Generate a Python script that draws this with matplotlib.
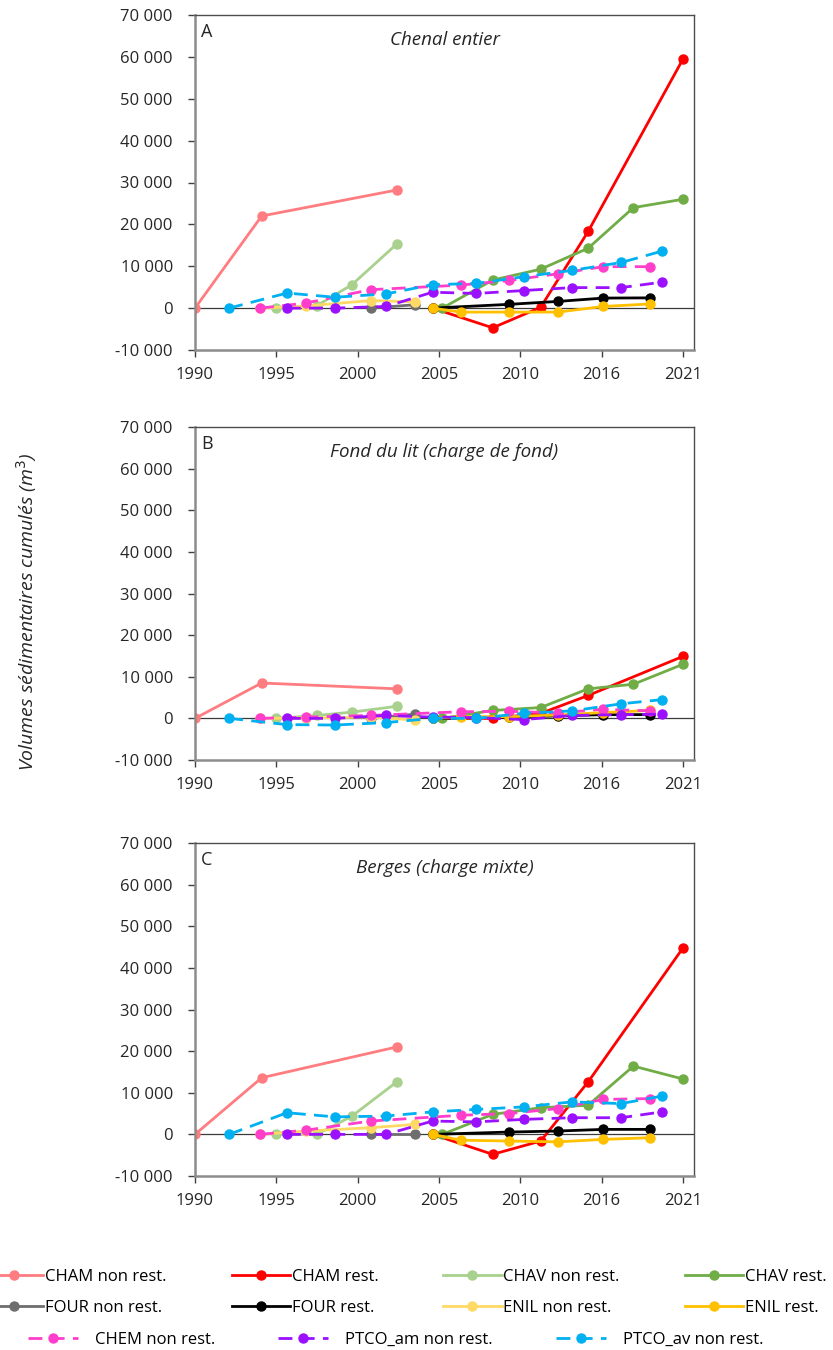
import numpy as np
import matplotlib
matplotlib.use("Agg")
import matplotlib.pyplot as plt
from matplotlib.ticker import FuncFormatter

plt.rcParams['font.family'] = ['Open Sans', 'DejaVu Sans']

# axis: evenly spaced year ticks (not linear in time)
tick_years = [1990, 1995, 2000, 2005, 2010, 2016, 2021]

# survey dates for each series
yr_cham_non = [1990, 1994.1, 2002.4]
yr_cham_rest = [2004.6, 2008.3, 2011.5, 2015.0, 2021]
yr_chav_non = [1995, 1997.5, 1999.65, 2002.4]
yr_chav_rest = [2005.2, 2008.3, 2011.5, 2015.0, 2017.95, 2021]
yr_four_non = [2000.8, 2003.5]
yr_four_rest = [2004.6, 2009.3, 2012.76, 2016.1, 2019.0]
yr_enil_non = [1994.0, 1996.8, 2000.8, 2003.5]
yr_enil_rest = [2004.6, 2006.35, 2009.3, 2012.76, 2016.1, 2019.0]
yr_chem_non = [1994.0, 1996.8, 2000.8, 2006.35, 2009.3, 2012.76, 2016.1, 2019.0]
yr_ptco_am = [1995.65, 1998.6, 2001.75, 2004.6, 2007.3, 2010.24, 2013.8, 2017.2, 2019.7]
yr_ptco_av = [1992.1, 1995.65, 1998.6, 2001.75, 2004.6, 2007.3, 2010.24, 2013.8, 2017.2, 2019.7]

# A - chenal entier
a_cham_non = [0, 22000, 28200]
a_cham_rest = [0, -4700, 200, 18300, 59500]
a_chav_non = [0, 600, 5600, 15300]
a_chav_rest = [0, 6700, 9300, 14300, 24000, 26000]
a_four_non = [0, 800]
a_four_rest = [0, 900, 1600, 2400, 2450]
a_enil_non = [0, 500, 1800, 1500]
a_enil_rest = [0, -950, -950, -950, 400, 1000]
a_chem_non = [0, 1200, 4400, 5500, 6600, 8200, 9900, 9900]
a_ptco_am = [0, 0, 400, 3800, 3500, 4200, 4900, 4900, 6200]
a_ptco_av = [0, 3600, 2600, 3400, 5600, 5900, 7500, 9000, 10900, 13600]

# B - fond du lit
b_cham_non = [0, 8500, 7100]
b_cham_rest = [0, 0, 1200, 5500, 14900]
b_chav_non = [0, 700, 1500, 2900]
b_chav_rest = [0, 1900, 2600, 7100, 8200, 13000]
b_four_non = [0, 1000]
b_four_rest = [0, 300, 600, 900, 900]
b_enil_non = [0, 100, 300, -400]
b_enil_rest = [0, 400, 400, 800, 1400, 1900]
b_chem_non = [0, 300, 700, 1600, 1700, 1300, 2200, 1800]
b_ptco_am = [0, 0, 700, 300, 200, -300, 700, 900, 1000]
b_ptco_av = [0, -1500, -1600, -1000, 0, 0, 1200, 1800, 3500, 4500]

# C - berges
c_cham_non = [0, 13600, 21000]
c_cham_rest = [0, -4800, -1600, 12600, 44800]
c_chav_non = [0, 0, 4400, 12600]
c_chav_rest = [0, 4800, 6400, 7000, 16400, 13300]
c_four_non = [0, 0]
c_four_rest = [0, 560, 800, 1200, 1200]
c_enil_non = [0, 800, 1600, 2400]
c_enil_rest = [0, -1400, -1600, -1800, -1200, -800]
c_chem_non = [0, 1000, 3200, 4600, 5000, 6200, 8400, 8600]
c_ptco_am = [0, 0, 0, 3200, 3000, 3600, 4000, 4000, 5400]
c_ptco_av = [0, 5200, 4200, 4400, 5400, 6000, 6600, 7800, 7400, 9200]

names = ['CHAM non rest.', 'CHAM rest.', 'CHAV non rest.', 'CHAV rest.',
         'FOUR non rest.', 'FOUR rest.', 'ENIL non rest.', 'ENIL rest.',
         'CHEM non rest.', 'PTCO_am non rest.', 'PTCO_av non rest.']
colors = ['#FF7C80', '#FF0000', '#A9D18E', '#70AD47',
          '#6E6E6E', '#000000', '#FFD966', '#FFC000',
          '#FF3FCC', '#9B10FF', '#00B0F0']
dashed = [False] * 8 + [True] * 3
years = [yr_cham_non, yr_cham_rest, yr_chav_non, yr_chav_rest,
         yr_four_non, yr_four_rest, yr_enil_non, yr_enil_rest,
         yr_chem_non, yr_ptco_am, yr_ptco_av]

panels = [
    ('A', 'Chenal entier',
     [a_cham_non, a_cham_rest, a_chav_non, a_chav_rest, a_four_non, a_four_rest,
      a_enil_non, a_enil_rest, a_chem_non, a_ptco_am, a_ptco_av]),
    ('B', 'Fond du lit (charge de fond)',
     [b_cham_non, b_cham_rest, b_chav_non, b_chav_rest, b_four_non, b_four_rest,
      b_enil_non, b_enil_rest, b_chem_non, b_ptco_am, b_ptco_av]),
    ('C', 'Berges (charge mixte)',
     [c_cham_non, c_cham_rest, c_chav_non, c_chav_rest, c_four_non, c_four_rest,
      c_enil_non, c_enil_rest, c_chem_non, c_ptco_am, c_ptco_av]),
]


def to_pos(yrs):
    return np.interp(yrs, tick_years, np.arange(len(tick_years)))


W, H = 833, 1350
fig = plt.figure(figsize=(W / 100, H / 100), dpi=100)

# axes boxes in pixels: (top, bottom)
boxes = [(15, 350), (427, 760), (843, 1176)]
left_px, right_px = 195, 694

fmt = FuncFormatter(lambda v, p: '{:,}'.format(int(v)).replace(',', ' '))

legend_handles = []
for k, (letter, title, series) in enumerate(panels):
    top, bot = boxes[k]
    ax = fig.add_axes([left_px / W, (H - bot) / H, (right_px - left_px) / W, (bot - top) / H])
    ax.axhline(0, color='#3a3a3a', lw=0.9, zorder=1)
    for i in range(len(names)):
        ln, = ax.plot(to_pos(years[i]), series[i], color=colors[i], lw=2.0,
                      ls=(0, (5, 3)) if dashed[i] else '-',
                      marker='o', ms=6.5, label=names[i], zorder=2 + i * 0.01)
        if k == 0:
            legend_handles.append(ln)
    ax.set_xlim(0, 6.135)
    ax.set_ylim(-10000, 70000)
    ax.set_xticks(np.arange(len(tick_years)))
    ax.set_xticklabels([str(y) for y in tick_years])
    ax.set_yticks(np.arange(-10000, 70001, 10000))
    ax.yaxis.set_major_formatter(fmt)
    ax.tick_params(axis='both', direction='out', length=5, width=1.0, color='#404040',
                   labelsize=12, labelcolor='#262626')
    ax.tick_params(axis='y', pad=11)
    ax.tick_params(axis='x', pad=7)
    for s in ['left', 'bottom']:
        ax.spines[s].set_color('#8c8c8c')
        ax.spines[s].set_linewidth(1.8)
    for s in ['top', 'right']:
        ax.spines[s].set_color('#4d4d4d')
        ax.spines[s].set_linewidth(1.0)
    ax.text(0.012, 0.975, letter, transform=ax.transAxes, ha='left', va='top',
            fontsize=13, color='#262626')
    ax.text(0.5, 0.925, title, transform=ax.transAxes, ha='center', va='center',
            fontsize=13.5, style='italic', color='#262626')

fig.text(27 / W, 1 - 612 / H, 'Volumes sédimentaires cumulés (m$^3$)', rotation=90,
         ha='center', va='center', fontsize=14, style='italic', color='#262626')

# legend rows 1-2 (row-major order -> column-major for matplotlib)
order = [0, 4, 1, 5, 2, 6, 3, 7]
leg1 = fig.legend([legend_handles[i] for i in order], [names[i] for i in order],
                  ncol=4, loc='upper left', bbox_to_anchor=(-15 / W, 1 - 1269 / H),
                  frameon=False, fontsize=12, handlelength=3.5, handletextpad=0.1,
                  columnspacing=3.9, borderpad=0, borderaxespad=0, labelspacing=0.9)
leg2 = fig.legend(legend_handles[8:], names[8:], ncol=3, loc='upper left',
                  bbox_to_anchor=(28 / W, 1 - 1332 / H), frameon=False, fontsize=12,
                  handlelength=3.0, handletextpad=1.0, columnspacing=3.8,
                  borderpad=0, borderaxespad=0)

fig.savefig('out.png', dpi=100)
